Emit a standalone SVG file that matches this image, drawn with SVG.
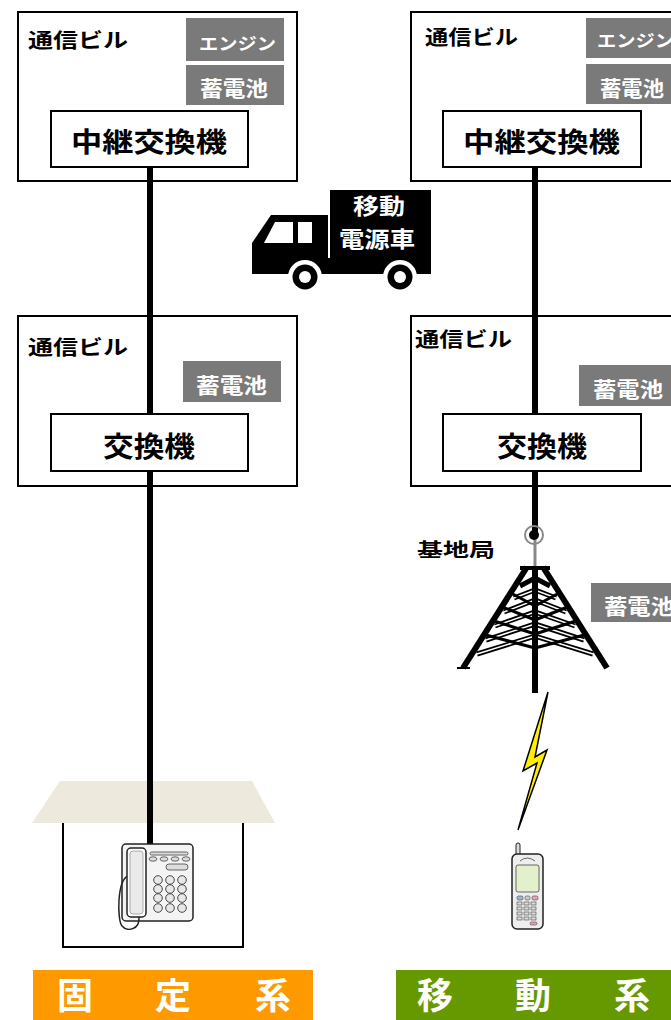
<svg xmlns="http://www.w3.org/2000/svg" width="671" height="1020" viewBox="0 0 671 1020">
  <style>
    .bld { fill: #fff; stroke: #000; stroke-width: 2; }
    .box { fill: #fff; stroke: #000; stroke-width: 2; }
    .bat { fill: #7a7a7a; }
    .t { font-family: "Noto Sans CJK JP", "Noto Sans", sans-serif; font-weight: bold; }
    .blk { fill: #000; }
    .wht { fill: #fff; }
    .wire { stroke: #000; stroke-width: 6; fill: none; }
  </style>

  <!-- left column: relay exchange building -->
  <g id="bldg-relay-fixed">
    <rect class="bld" x="18" y="12" width="279" height="169"/>
    <text class="t blk" x="28" y="48" font-size="20" textLength="100" lengthAdjust="spacingAndGlyphs">通信ビル</text>
    <rect class="bat" x="186" y="18" width="98" height="43"/>
    <text class="t wht" x="199" y="50" font-size="17" textLength="77" lengthAdjust="spacingAndGlyphs">エンジン</text>
    <rect class="bat" x="186" y="65" width="98" height="40"/>
    <text class="t wht" x="200" y="96" font-size="21" textLength="68" lengthAdjust="spacingAndGlyphs">蓄電池</text>
  </g>

  <!-- right column: relay exchange building -->
  <g id="bldg-relay-mobile">
    <rect class="bld" x="411" y="12" width="270" height="169"/>
    <text class="t blk" x="425" y="45" font-size="20" textLength="93" lengthAdjust="spacingAndGlyphs">通信ビル</text>
    <rect class="bat" x="586" y="18" width="95" height="40"/>
    <text class="t wht" x="597" y="47" font-size="17" textLength="77" lengthAdjust="spacingAndGlyphs">エンジン</text>
    <rect class="bat" x="586" y="64" width="95" height="40"/>
    <text class="t wht" x="600" y="96" font-size="21" textLength="64" lengthAdjust="spacingAndGlyphs">蓄電池</text>
  </g>

  <!-- left column: local exchange building -->
  <g id="bldg-local-fixed">
    <rect class="bld" x="18" y="316" width="279" height="170"/>
    <text class="t blk" x="28" y="355" font-size="20" textLength="100" lengthAdjust="spacingAndGlyphs">通信ビル</text>
    <rect class="bat" x="183" y="361" width="98" height="41"/>
    <text class="t wht" x="196" y="393" font-size="21" textLength="71" lengthAdjust="spacingAndGlyphs">蓄電池</text>
  </g>

  <!-- right column: local exchange building -->
  <g id="bldg-local-mobile">
    <rect class="bld" x="411" y="316" width="270" height="170"/>
    <text class="t blk" x="415" y="347" font-size="20" textLength="97" lengthAdjust="spacingAndGlyphs">通信ビル</text>
    <rect class="bat" x="579" y="365" width="95" height="41"/>
    <text class="t wht" x="593" y="397" font-size="21" textLength="70" lengthAdjust="spacingAndGlyphs">蓄電池</text>
  </g>

  <!-- house roof and walls -->
  <g id="house">
    <polygon points="60,781 252,781 275,823 32,823" fill="#ede9dc"/>
    <polyline points="63,823 63,947 243,947 243,823" fill="none" stroke="#000" stroke-width="2"/>
  </g>

  <!-- lines between the exchanges and terminals -->
  <g id="connectors">
    <line class="wire" x1="150" y1="167" x2="150" y2="414"/>
    <line class="wire" x1="150" y1="471" x2="150" y2="845"/>
    <line class="wire" x1="535" y1="167" x2="535" y2="414"/>
    <line class="wire" x1="535" y1="471" x2="535" y2="534"/>
  </g>

  <g id="relay-switch-fixed">
    <rect class="box" x="51" y="111" width="197" height="56"/>
    <text class="t blk" x="71" y="152" font-size="27" textLength="156" lengthAdjust="spacingAndGlyphs">中継交換機</text>
  </g>
  <g id="relay-switch-mobile">
    <rect class="box" x="443" y="111" width="198" height="56"/>
    <text class="t blk" x="463" y="152" font-size="27" textLength="157" lengthAdjust="spacingAndGlyphs">中継交換機</text>
  </g>
  <g id="switch-fixed">
    <rect class="box" x="51" y="414" width="197" height="57"/>
    <text class="t blk" x="103" y="457" font-size="28" textLength="92" lengthAdjust="spacingAndGlyphs">交換機</text>
  </g>
  <g id="switch-mobile">
    <rect class="box" x="443" y="414" width="198" height="57"/>
    <text class="t blk" x="497" y="457" font-size="28" textLength="90" lengthAdjust="spacingAndGlyphs">交換機</text>
  </g>

  <!-- mobile power truck -->
  <g id="power-truck">
    <rect x="330" y="190" width="101" height="78" fill="#000"/>
    <polygon points="252,243 271,215 328,215 328,273 252,273" fill="#000"/>
    <polygon points="264,243 275,222 293,222 293,243" fill="#fff"/>
    <rect x="298" y="222" width="14" height="21" fill="#fff"/>
    <rect x="252" y="258" width="179" height="16" fill="#000"/>
    <g>
      <circle cx="305" cy="277" r="17" fill="#fff"/>
      <circle cx="305" cy="277" r="12.5" fill="#000"/>
      <circle cx="305" cy="277" r="6" fill="#fff"/>
      <circle cx="400" cy="277" r="17" fill="#fff"/>
      <circle cx="400" cy="277" r="12.5" fill="#000"/>
      <circle cx="400" cy="277" r="6" fill="#fff"/>
    </g>
    <text class="t wht" x="353" y="214" font-size="22" textLength="52" lengthAdjust="spacingAndGlyphs">移動</text>
    <text class="t wht" x="339" y="247" font-size="22" textLength="76" lengthAdjust="spacingAndGlyphs">電源車</text>
  </g>

  <!-- base station tower -->
  <g id="base-station">
    <text class="t blk" x="417" y="557" font-size="19" textLength="78" lengthAdjust="spacingAndGlyphs">基地局</text>
    <line x1="535" y1="538" x2="535" y2="567" stroke="#888" stroke-width="3"/>
    <circle cx="534" cy="535" r="9" fill="none" stroke="#888" stroke-width="2"/>
    <circle cx="534" cy="535" r="5" fill="#000"/>
    <!-- lattice branches -->
    <g fill="none" stroke-linejoin="miter">
      <g stroke="#000" stroke-width="5">
        <polyline points="514,598 535,590 556,598"/>
        <polyline points="504,612 535,600 566,612"/>
        <polyline points="495,626 535,612 575,626"/>
        <polyline points="486,640 535,624 584,640"/>
        <polyline points="477,654 535,636 593,654"/>
        <polyline points="520,586 535,578 550,586"/>
      </g>
      <g stroke="#fff" stroke-width="1.5">
        <polyline points="514,598 535,590 556,598"/>
        <polyline points="504,612 535,600 566,612"/>
        <polyline points="495,626 535,612 575,626"/>
        <polyline points="486,640 535,624 584,640"/>
        <polyline points="477,654 535,636 593,654"/>
      </g>
      <g stroke="#000" stroke-width="3">
        <line x1="500" y1="606" x2="535" y2="620"/>
        <line x1="570" y1="606" x2="535" y2="620"/>
        <line x1="491" y1="620" x2="535" y2="634"/>
        <line x1="579" y1="620" x2="535" y2="634"/>
        <line x1="482" y1="634" x2="535" y2="648"/>
        <line x1="588" y1="634" x2="535" y2="648"/>
        <line x1="509" y1="592" x2="535" y2="606"/>
        <line x1="561" y1="592" x2="535" y2="606"/>
      </g>
    </g>
    <g stroke="#000" stroke-width="6" stroke-linecap="butt">
      <line x1="527" y1="567" x2="463" y2="668"/>
      <line x1="543" y1="567" x2="607" y2="668"/>
      <line x1="535" y1="567" x2="535" y2="693"/>
    </g>
    <line x1="520" y1="568" x2="550" y2="568" stroke="#000" stroke-width="4"/>
    <line x1="470" y1="668" x2="457" y2="668" stroke="#000" stroke-width="2"/>
    <rect class="bat" x="591" y="583" width="90" height="39"/>
    <text class="t wht" x="604" y="614" font-size="21" textLength="70" lengthAdjust="spacingAndGlyphs">蓄電池</text>
  </g>

  <!-- radio link -->
  <g id="radio-link">
    <polygon points="548,692 523,771 537,763 518,830 547,750 535,757" fill="#ffee00" stroke="#000" stroke-width="1.5" stroke-linejoin="miter"/>
  </g>

  <!-- desk telephone -->
  <g id="desk-phone">
    <rect x="122" y="844" width="71" height="77" rx="4" fill="#f4f4f4" stroke="#222" stroke-width="1.5"/>
    <path d="M128,876 C117,880 117,920 122,926 C127,932 140,930 139,917" fill="none" stroke="#222" stroke-width="1.5"/>
    <rect x="127" y="848" width="19" height="69" rx="4" fill="#fff" stroke="#222" stroke-width="1.5"/>
    <rect x="130" y="851" width="13" height="63" rx="3" fill="#eaeaea" stroke="#999" stroke-width="0.8"/>
    <rect x="150" y="852" width="38" height="3" rx="1.5" fill="#ddd" stroke="#444" stroke-width="0.8"/>
    <g fill="#ddd" stroke="#444" stroke-width="0.8">
      <ellipse cx="153" cy="859" rx="4" ry="2.2"/>
      <ellipse cx="164" cy="859" rx="4" ry="2.2"/>
      <ellipse cx="175" cy="859" rx="4" ry="2.2"/>
      <ellipse cx="186" cy="859" rx="4" ry="2.2"/>
      <rect x="166" y="864" width="22" height="6" rx="3"/>
    </g>
    <g fill="#e8e8e8" stroke="#333" stroke-width="0.9">
      <circle cx="158" cy="880" r="4.3"/><circle cx="170" cy="880" r="4.3"/><circle cx="182" cy="880" r="4.3"/>
      <circle cx="158" cy="889" r="4.3"/><circle cx="170" cy="889" r="4.3"/><circle cx="182" cy="889" r="4.3"/>
      <circle cx="158" cy="898" r="4.3"/><circle cx="170" cy="898" r="4.3"/><circle cx="182" cy="898" r="4.3"/>
      <circle cx="158" cy="908" r="4.3"/><circle cx="170" cy="908" r="4.3"/><circle cx="182" cy="908" r="4.3"/>
    </g>
  </g>

  <!-- mobile handset -->
  <g id="mobile-phone">
    <rect x="516" y="843" width="4" height="14" rx="2" fill="#ddd" stroke="#222" stroke-width="1"/>
    <rect x="512" y="854" width="31" height="75" rx="5" fill="#eee" stroke="#222" stroke-width="1.5"/>
    <path d="M520,861 Q527,855 535,861" fill="none" stroke="#444" stroke-width="0.8"/>
    <rect x="516" y="865" width="23" height="27" rx="2" fill="#e3f0cc" stroke="#444" stroke-width="0.8"/>
    <g stroke="#444" stroke-width="0.6">
      <rect x="517" y="896" width="6" height="4" rx="1.5" fill="#9bb7d9"/>
      <rect x="532" y="896" width="6" height="4" rx="1.5" fill="#e8a0c0"/>
      <rect x="525" y="896" width="5" height="4" rx="1.5" fill="#ccc"/>
      <g fill="#ddd">
        <rect x="517" y="902" width="5" height="3"/><rect x="524" y="902" width="5" height="3"/><rect x="531" y="902" width="5" height="3"/>
        <rect x="517" y="907" width="5" height="3"/><rect x="524" y="907" width="5" height="3"/><rect x="531" y="907" width="5" height="3"/>
        <rect x="517" y="912" width="5" height="3"/><rect x="524" y="912" width="5" height="3"/><rect x="531" y="912" width="5" height="3"/>
        <rect x="517" y="917" width="5" height="3"/><rect x="524" y="917" width="5" height="3"/><rect x="531" y="917" width="5" height="3"/>
      </g>
      <rect x="530" y="922" width="7" height="3" rx="1.5" fill="#e8a0c0"/>
    </g>
  </g>

  <!-- column captions -->
  <g id="label-fixed">
    <rect x="33" y="970" width="280" height="50" fill="#ff9900"/>
    <text class="t wht" x="75" y="1009" font-size="36" text-anchor="middle">固</text>
    <text class="t wht" x="173" y="1009" font-size="36" text-anchor="middle">定</text>
    <text class="t wht" x="273" y="1009" font-size="36" text-anchor="middle">系</text>
  </g>
  <g id="label-mobile">
    <rect x="396" y="970" width="275" height="50" fill="#669900"/>
    <text class="t wht" x="435" y="1009" font-size="36" text-anchor="middle">移</text>
    <text class="t wht" x="533" y="1009" font-size="36" text-anchor="middle">動</text>
    <text class="t wht" x="632" y="1009" font-size="36" text-anchor="middle">系</text>
  </g>
</svg>
